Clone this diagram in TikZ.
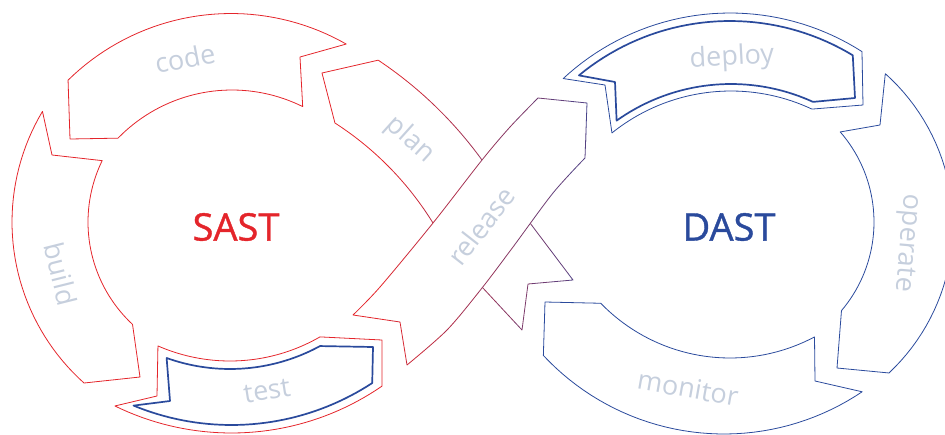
\documentclass[tikz,border=0pt]{standalone}
\usepackage{fontspec}
\newfontfamily\stagefont{Open Sans}
\newfontfamily\scanfont{Open Sans}[FakeBold=1]
\definecolor{sastred}{HTML}{E4252B}
\definecolor{dastblue}{HTML}{2A4A9C}
\definecolor{stagegrey}{HTML}{C6CFDD}

\tikzset{
  ring/.style={line width=0.8pt, line join=round},
  redring/.style={ring, draw=sastred},
  bluering/.style={ring, draw=dastblue},
  innerring/.style={line width=1.7pt, line join=round, draw=dastblue},
  stage/.style={font=\stagefont\fontsize{27}{27}\selectfont, text=stagegrey, inner sep=0pt},
  scan/.style={font=\scanfont\fontsize{38}{38}\selectfont, inner sep=0pt}
}

% the two arrows that cross in the middle
\newcommand{\planpath}{plot[domain=-56.3:-35.9] ({152.5+406.8*cos(\x)}, {398.6+406.8*sin(\x)})
  -- (530,223) -- (573,280) -- (528,284) -- (522,330) -- (482,287)
  -- plot[domain=-31.65:-57.2] ({163.4+316.7*cos(\x)}, {389.2+316.7*sin(\x)})
  -- (322,73) -- cycle}
\newcommand{\releasepath}{(538,98) -- (587,103) -- (585,158)
  -- plot[smooth] coordinates {(585,158) (553,193) (513,247) (482,288) (447,330) (407,365)}
  -- (400,322) -- (353,315)
  -- plot[smooth] coordinates {(353,315) (380,287) (433,223) (482,160) (510,127) (538,98)} -- cycle}

\begin{document}
\begin{tikzpicture}[x=1pt, y=-1pt, samples=40]

        \useasboundingbox (0,0) rectangle (945,434);
        \clip (0,0) rectangle (945,434);

        % SAST loop
        \draw[redring] plot[domain=210.8:131.8] ({228+216*cos(\x)}, {222+216*sin(\x)})
              -- (140,377)
              -- plot[domain=133:206] ({228+140*cos(\x)}, {222+140*sin(\x)})
              -- (52,155) -- cycle;
        \draw[redring] plot[domain=-134.5:-60.3] ({231+232.5*cos(\x)}, {246+232.5*sin(\x)})
              -- (300,57)
              -- plot[domain=-63.6:-135.8] ({232+159*cos(\x)}, {249+159*sin(\x)})
              -- (70,139) -- cycle;
        \draw[redring] plot[domain=113.6:60] ({230+180*cos(\x)}, {181+180*sin(\x)})
              -- (382,340)
              -- plot[domain=55.4:116.1] ({231.5+265*cos(\x)}, {168+265*sin(\x)})
              -- (157,396) -- cycle;
        \draw[innerring] plot[domain=109.7:61.4] ({230+188*cos(\x)}, {181+188*sin(\x)})
              -- (373,347)
              -- plot[domain=56.8:112.4] ({231.5+257*cos(\x)}, {168+257*sin(\x)})
              -- (170,401) -- cycle;

        % DAST loop
        \draw[bluering] plot[domain=-132.9:-57.4] ({730+245*cos(\x)}, {258+245*sin(\x)})
              -- (863,105)
              -- plot[domain=-64.8:-128.8] ({731+190*cos(\x)}, {281+190*sin(\x)})
              -- (605,85) -- cycle;
        \draw[innerring] plot[domain=-129.6:-58.8] ({730+237*cos(\x)}, {258+237*sin(\x)})
              -- (855,98)
              -- plot[domain=-65.4:-125.5] ({731+197*cos(\x)}, {281+197*sin(\x)})
              -- (615,82) -- cycle;
        \draw[bluering] plot[domain=-48.2:46.8] ({750+203*cos(\x)}, {225+203*sin(\x)})
              -- (837,368)
              -- plot[domain=40.3:-41.1] ({737+137*cos(\x)}, {222+137*sin(\x)})
              -- (880,125) -- cycle;
        \draw[bluering] (545,302)
              -- plot[domain=135.9:62] ({730+180*cos(\x)}, {178+180*sin(\x)})
              -- (815,381)
              -- plot[domain=56:137] ({724+247*cos(\x)}, {187+247*sin(\x)})
              -- cycle;

        % crossing, red to blue in strips
        \begin{scope}
            \clip (300,-5) rectangle (388,440);
            \draw[redring] \planpath;
            \filldraw[redring, fill=white] \releasepath;
        \end{scope}
        \foreach \i in {1,...,12} {
            \pgfmathsetmacro\xa{370+18*\i}
            \pgfmathsetmacro\xb{\xa+18}
            \pgfmathtruncatemacro\mix{100-7*\i}
            \begin{scope}
                \clip (\xa,-5) rectangle (\xb,440);
                \draw[ring, draw=sastred!\mix!dastblue] \planpath;
                \filldraw[ring, fill=white, draw=sastred!\mix!dastblue] \releasepath;
            \end{scope}
        }

        % stages
        \node[stage, rotate=11] (code) at (185,58) {code};
        \node[stage, rotate=-76] (build) at (61,274) {build};
        \node[stage, rotate=9] (test) at (267,391) {test};
        \node[stage, rotate=-42] (plan) at (410,140) {plan};
        \node[stage, rotate=52] (release) at (481,226) {release};
        \node[stage, rotate=3] (deploy) at (732,58) {deploy};
        \node[stage, rotate=-95] (operate) at (906,243) {operate};
        \node[stage, rotate=-10] (monitor) at (688,388) {monitor};

        \node[scan, text=sastred] (sast) at (236,227) {SAST};
        \node[scan, text=dastblue] (dast) at (729,227) {DAST};

\end{tikzpicture}
\end{document}
